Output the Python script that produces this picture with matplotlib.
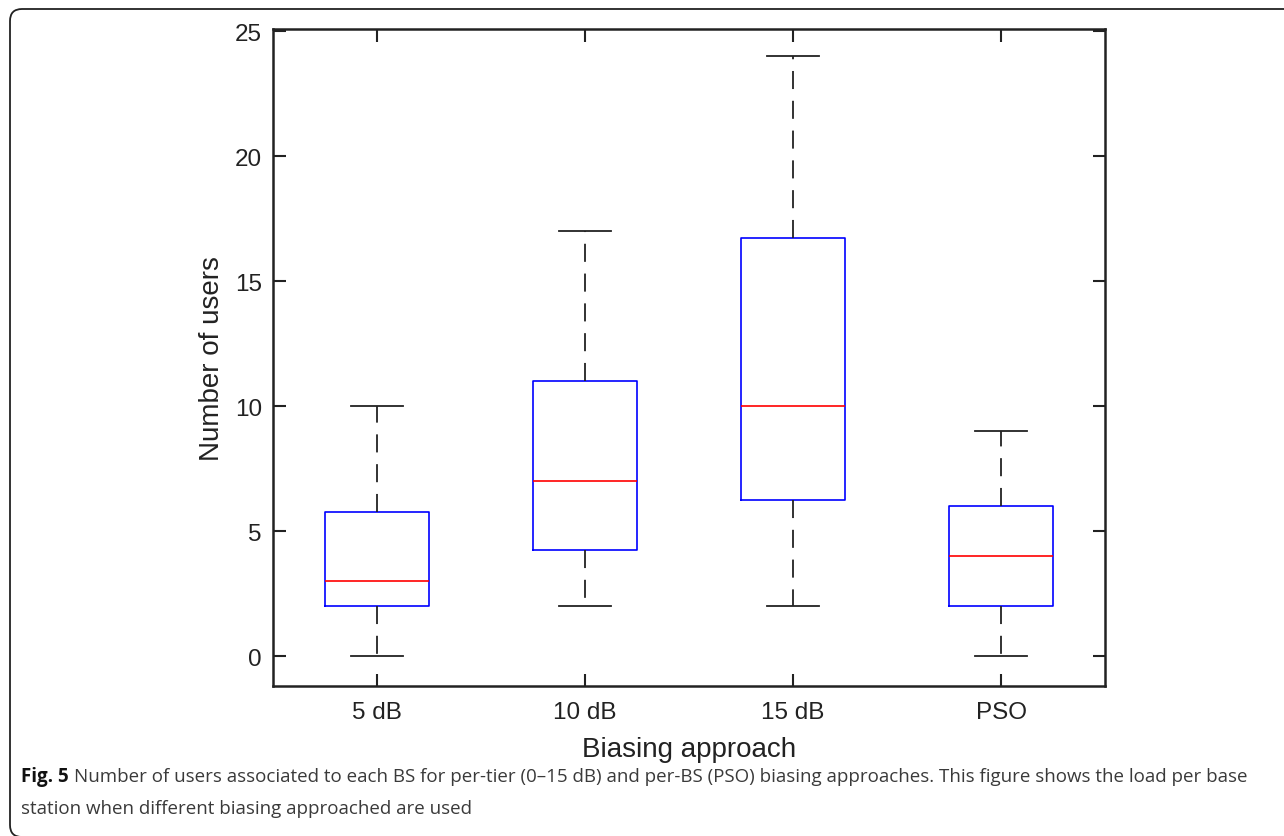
import matplotlib
matplotlib.use("Agg")
import matplotlib.pyplot as plt
from matplotlib.path import Path
from matplotlib.patches import PathPatch
from matplotlib.transforms import Affine2D

# ---- data ----
categories = ["5 dB", "10 dB", "15 dB", "PSO"]
whisker_low = [0, 2, 2, 0]
q1 = [2, 4.25, 6.25, 2]
median = [3, 7, 10, 4]
q3 = [5.75, 11, 16.75, 6]
whisker_high = [10, 17, 24, 9]
yticks = [0, 5, 10, 15, 20, 25]

W, H = 1284, 837
fig = plt.figure(figsize=(W / 100, H / 100), dpi=100)

# outer rounded frame in pixel coordinates (y measured from top)
pix = Affine2D().scale(1 / W, -1 / H).translate(0, 1) + fig.transFigure
r = 12
yb = H + 1
verts = [(W + 20, 10), (10 + r, 10), (10, 10), (10, 10 + r),
         (10, yb - r), (10, yb), (10 + r, yb), (W + 20, yb)]
codes = [Path.MOVETO, Path.LINETO, Path.CURVE3, Path.CURVE3,
         Path.LINETO, Path.CURVE3, Path.CURVE3, Path.LINETO]
frame = PathPatch(Path(verts, codes), transform=pix, fill=False,
                  edgecolor="#222222", linewidth=1.3, clip_on=False)
fig.patches.append(frame)

ax = fig.add_axes([273 / W, (H - 687) / H, 832 / W, 657 / H])

stats = []
for i, c in enumerate(categories):
    stats.append(dict(label=c, whislo=whisker_low[i], q1=q1[i], med=median[i],
                      q3=q3[i], whishi=whisker_high[i], fliers=[]))

ax.bxp(stats, positions=range(1, len(categories) + 1), widths=0.5,
       showfliers=False, capwidths=0.25,
       boxprops=dict(color=(0, 0, 1), linewidth=1.2),
       medianprops=dict(color=(1, 0, 0), linewidth=1.2),
       whiskerprops=dict(color="#222222", linewidth=1.3, linestyle=(0, (10, 6.5))),
       capprops=dict(color="#222222", linewidth=1.3))

ax.set_xlim(0.5, 4.5)
ax.set_ylim(-1.2, 25.1)
ax.set_yticks(yticks)
ax.set_xticks(range(1, len(categories) + 1))
ax.set_xticklabels(categories)

font = ["Liberation Sans", "DejaVu Sans"]
for lab in ax.get_xticklabels() + ax.get_yticklabels():
    lab.set_family(font)
    lab.set_fontsize(17.5)
    lab.set_color("#222222")

ax.tick_params(direction="in", length=9, width=1.5, top=True, right=True,
               color="#222222")
ax.tick_params(axis="x", pad=11)
ax.tick_params(axis="y", pad=8)
for s in ax.spines.values():
    s.set_linewidth(1.8)
    s.set_color("#222222")

ax.set_xlabel("Biasing approach", family=font, fontsize=20, color="#222222")
ax.set_ylabel("Number of users", family=font, fontsize=20, color="#222222")
ax.xaxis.set_label_coords(0.5, -(750 - 687) / 657)
ax.xaxis.label.set_va("center")
ax.yaxis.set_label_coords(-(273 - 212) / 832, 0.5)
ax.yaxis.label.set_va("center")

# caption
cap_font = ["Open Sans", "DejaVu Sans"]
cap_size = 13.5
y1, y2 = 777, 809
t1 = fig.text(21 / W, 1 - y1 / H, "Fig. 5", family=cap_font, fontsize=cap_size,
              fontweight="bold", color="#111111", va="center", ha="left")
fig.canvas.draw()
bb = t1.get_window_extent()
fig.text(bb.x1 / W + 5 / W, 1 - y1 / H,
         "Number of users associated to each BS for per-tier (0\u201315 dB) and per-BS (PSO) "
         "biasing approaches. This figure shows the load per base",
         family=cap_font, fontsize=cap_size, color="#3a3a3a", va="center", ha="left")
fig.text(21 / W, 1 - y2 / H, "station when different biasing approached are used",
         family=cap_font, fontsize=cap_size, color="#3a3a3a", va="center", ha="left")

fig.savefig("out.png", dpi=100)
